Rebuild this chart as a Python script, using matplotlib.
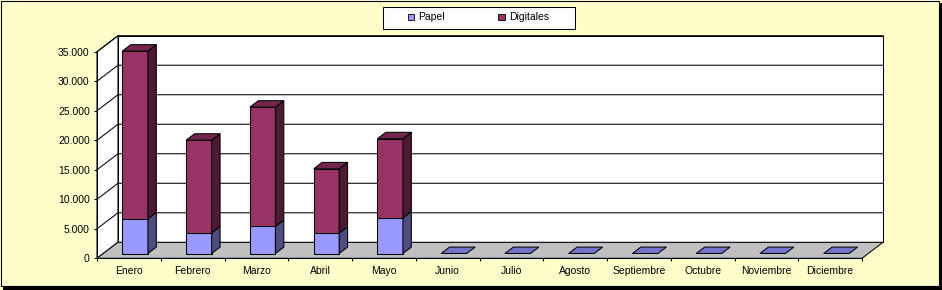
import matplotlib
matplotlib.use("Agg")
import matplotlib.pyplot as plt
from matplotlib.patches import Rectangle, Polygon, Patch

plt.rcParams["font.family"] = ["Liberation Sans", "DejaVu Sans"]
plt.rcParams["font.size"] = 7.5

months = ["Enero", "Febrero", "Marzo", "Abril", "Mayo", "Junio", "Julio",
          "Agosto", "Septiembre", "Octubre", "Noviembre", "Diciembre"]
papel = [5900, 3500, 4600, 3450, 6050, 0, 0, 0, 0, 0, 0, 0]
digitales = [28400, 15700, 20200, 10900, 13400, 0, 0, 0, 0, 0, 0, 0]
y_ticks = [0, 5000, 10000, 15000, 20000, 25000, 30000, 35000]

# colours (front, side, top) like the old Excel palette
col_papel = ("#9999FF", "#4D4D80", "#7373C8")
col_dig = ("#993366", "#4D1A33", "#73264D")

W, H = 942, 290
fig = plt.figure(figsize=(W / 100, H / 100), dpi=100)
fig.patch.set_facecolor("#FFFFCC")

# frame with a drop shadow
fig.add_artist(Rectangle((3 / W, 0), 1 - 3 / W, 287 / H, transform=fig.transFigure,
                         facecolor="black", edgecolor="none", zorder=-20))
fig.add_artist(Rectangle((0.5 / W, 4 / H), 938 / W, 285.5 / H, transform=fig.transFigure,
                         facecolor="#FFFFCC", edgecolor="black", lw=0.8, zorder=-19))

# front plane of the plot area: x 97..862 px, y 258.3..51.7 px
ax_l, ax_r, ax_b, ax_t = 97, 862, 258.3, 51.7
ax = fig.add_axes([ax_l / W, (H - ax_b) / H, (ax_r - ax_l) / W, (ax_b - ax_t) / H])
ax.patch.set_visible(False)
n = len(months)
ymax = y_ticks[-1]
ax.set_xlim(-0.5, n - 0.5)
ax.set_ylim(0, ymax)

# depth of the 3d box (21 px right, 16 px up) in data units
DX = 21 / ((ax_r - ax_l) / n)
DY = 16 / ((ax_b - ax_t) / ymax)
x0, x1 = -0.5, n - 0.5

lw = 0.75
# back wall
ax.add_patch(Rectangle((x0 + DX, DY), n, ymax, facecolor="white", edgecolor="black",
                       lw=lw, clip_on=False, zorder=0.5))
# left wall
ax.add_patch(Polygon([(x0, 0), (x0, ymax), (x0 + DX, ymax + DY), (x0 + DX, DY)],
                     facecolor="white", edgecolor="black", lw=lw, clip_on=False, zorder=0.5))
# floor
ax.add_patch(Polygon([(x0, 0), (x1, 0), (x1 + DX, DY), (x0 + DX, DY)],
                     facecolor="#C0C0C0", edgecolor="black", lw=lw, clip_on=False, zorder=0.6))
for yv in y_ticks[1:]:
    ax.plot([x0, x0 + DX, x1 + DX], [yv, yv + DY, yv + DY], color="black", lw=lw,
            clip_on=False, zorder=0.7)

# bars
bw = 0.4
f0, f1 = 0.3, 0.7


def draw_segment(i, base, h, cols, top_face):
    xl = i - bw / 2
    xr = i + bw / 2
    if h > 0:
        ax.bar(i + f0 * DX, h, bw, bottom=base + f0 * DY, color=cols[0],
               edgecolor="black", lw=lw, clip_on=False, zorder=3)
        ax.add_patch(Polygon([(xr + f0 * DX, base + f0 * DY), (xr + f1 * DX, base + f1 * DY),
                              (xr + f1 * DX, base + h + f1 * DY), (xr + f0 * DX, base + h + f0 * DY)],
                             facecolor=cols[1], edgecolor="black", lw=lw, clip_on=False, zorder=3))
    if top_face:
        t = base + h
        ax.add_patch(Polygon([(xl + f0 * DX, t + f0 * DY), (xr + f0 * DX, t + f0 * DY),
                              (xr + f1 * DX, t + f1 * DY), (xl + f1 * DX, t + f1 * DY)],
                             facecolor=cols[2], edgecolor="black", lw=lw, clip_on=False, zorder=3))


for i in range(n):
    p, d = papel[i], digitales[i]
    draw_segment(i, 0, p, col_papel, d == 0)
    if d > 0:
        draw_segment(i, p, d, col_dig, True)

# axes, ticks and labels
for s in ["top", "right"]:
    ax.spines[s].set_visible(False)
for s in ["left", "bottom"]:
    ax.spines[s].set_linewidth(lw)
    ax.spines[s].set_zorder(4)

ax.set_yticks(y_ticks)
ax.set_yticklabels([f"{v:,}".replace(",", ".") for v in y_ticks])
ax.tick_params(axis="y", direction="out", length=2.2, width=lw, pad=3)

ax.set_xticks([k - 0.5 for k in range(n + 1)])
ax.set_xticklabels([])
ax.tick_params(axis="x", which="major", direction="out", length=2.2, width=lw)
ax.set_xticks(range(n), minor=True)
ax.set_xticklabels(months, minor=True)
ax.tick_params(axis="x", which="minor", length=0, pad=5.5)

# legend
fig.add_artist(Rectangle((383 / W, 1 - 29 / H), 192 / W, 22 / H, transform=fig.transFigure,
                         facecolor="white", edgecolor="black", lw=lw, zorder=5))
handles = [Patch(facecolor=col_papel[0], edgecolor="black", lw=0.6),
           Patch(facecolor=col_dig[0], edgecolor="black", lw=0.6)]
leg = fig.legend(handles, ["Papel", "Digitales"], ncol=2, frameon=False, loc="center",
                 bbox_to_anchor=(478.5 / W, 1 - 17.5 / H), handlelength=0.6, handleheight=0.6,
                 handletextpad=0.45, columnspacing=5.1, borderpad=0, borderaxespad=0)
leg.set_zorder(6)

fig.savefig("out.png", dpi=100, facecolor=fig.get_facecolor())
